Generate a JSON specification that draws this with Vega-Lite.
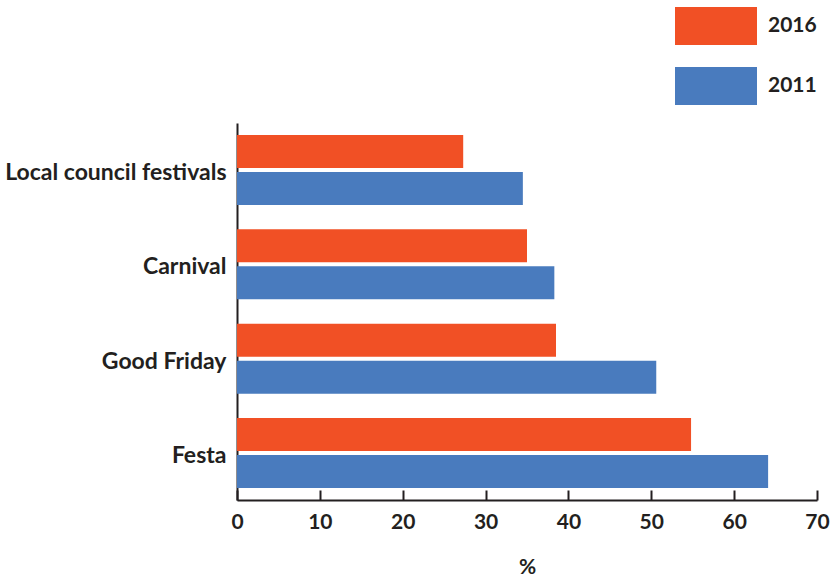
{
  "$schema": "https://vega.github.io/schema/vega-lite/v6.json",
  "width": 580,
  "height": 377,
  "padding": {"left": 237, "top": 123, "right": 17, "bottom": 76},
  "autosize": {"type": "none"},
  "config": {
    "view": {"stroke": null},
    "font": "Lato",
    "axis": {"domainColor": "#231F20", "domainWidth": 2, "tickColor": "#231F20", "tickWidth": 2, "labelColor": "#231F20", "titleColor": "#231F20", "labelFont": "Lato", "labelFontWeight": "bold", "titleFont": "Lato", "titleFontWeight": "bold", "grid": false}
  },
  "data": {
    "values": [
      {"event": "Local council festivals", "year": "2016", "value": 27.3},
      {"event": "Local council festivals", "year": "2011", "value": 34.5},
      {"event": "Carnival", "year": "2016", "value": 35.0},
      {"event": "Carnival", "year": "2011", "value": 38.3},
      {"event": "Good Friday", "year": "2016", "value": 38.5},
      {"event": "Good Friday", "year": "2011", "value": 50.6},
      {"event": "Festa", "year": "2016", "value": 54.8},
      {"event": "Festa", "year": "2011", "value": 64.1}
    ]
  },
  "mark": {"type": "bar"},
  "encoding": {
    "y": {
      "field": "event", "type": "nominal",
      "sort": ["Local council festivals", "Carnival", "Good Friday", "Festa"],
      "scale": {"paddingInner": 0.258, "paddingOuter": 0.128},
      "axis": {"title": null, "ticks": false, "labelFontSize": 23, "labelPadding": 11, "labelOffset": 3, "labelLimit": 300}
    },
    "yOffset": {
      "field": "year", "type": "nominal",
      "sort": ["2016", "2011"],
      "scale": {"paddingInner": 0.108}
    },
    "x": {
      "field": "value", "type": "quantitative",
      "scale": {"domain": [0, 70], "nice": false},
      "axis": {"values": [0, 10, 20, 30, 40, 50, 60, 70], "tickSize": -10, "labelFontSize": 21, "labelPadding": 21, "title": "%", "titleFontSize": 21, "titlePadding": 24, "labelFlush": false}
    },
    "color": {
      "field": "year", "type": "nominal",
      "sort": ["2016", "2011"],
      "scale": {"domain": ["2016", "2011"], "range": ["#F15025", "#497BBE"]},
      "legend": {
        "title": null,
        "orient": "none",
        "legendX": 438,
        "legendY": -138,
        "symbolType": "M-1,-0.463H1V0.463H-1Z",
        "symbolSize": 6724,
        "symbolStrokeWidth": 0,
        "symbolOpacity": 1,
        "labelFontSize": 21,
        "labelFont": "Lato",
        "labelFontWeight": "bold",
        "labelColor": "#231F20",
        "labelOffset": 11,
        "rowPadding": -7
      }
    }
  }
}
